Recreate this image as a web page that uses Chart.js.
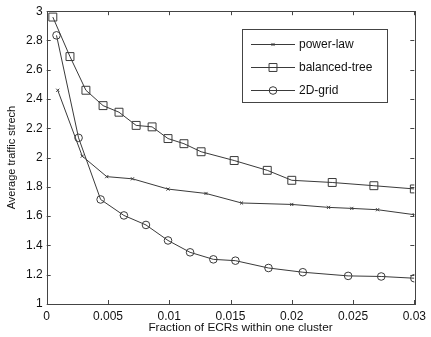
<!DOCTYPE html>
<html>
<head>
<meta charset="utf-8">
<script src="https://cdn.jsdelivr.net/npm/chart.js@4/dist/chart.umd.min.js"></script>
<style>
  html, body { margin: 0; padding: 0; background: #fff; }
  #wrap { width: 431px; height: 337px; }
</style>
</head>
<body>
<div id="wrap"><canvas id="chart"></canvas></div>
<script>
// series names as in the legend
const seriesNames = ['power-law', 'balanced-tree', '2D-grid'];

// power-law (x markers)
const powerLawX = [0.0009, 0.0029, 0.0049, 0.0070, 0.0099, 0.0130, 0.0159, 0.0200, 0.0230, 0.0249, 0.0270, 0.0300];
const powerLawY = [2.46, 2.01, 1.87, 1.855, 1.785, 1.755, 1.69, 1.68, 1.66, 1.653, 1.644, 1.61];

// balanced-tree (square markers)
const treeX = [0.0005, 0.0019, 0.0032, 0.0046, 0.0059, 0.0073, 0.0086, 0.0099, 0.0112, 0.0126, 0.0153, 0.0180, 0.0200, 0.0233, 0.0267, 0.0300];
const treeY = [2.96, 2.69, 2.46, 2.355, 2.31, 2.22, 2.21, 2.13, 2.095, 2.04, 1.98, 1.913, 1.845, 1.83, 1.808, 1.786];

// 2D-grid (circle markers)
const gridX = [0.0008, 0.0026, 0.0044, 0.0063, 0.0081, 0.0099, 0.0117, 0.0136, 0.0154, 0.0181, 0.0209, 0.0246, 0.0273, 0.0300];
const gridY = [2.835, 2.135, 1.714, 1.605, 1.54, 1.434, 1.353, 1.305, 1.296, 1.246, 1.217, 1.192, 1.188, 1.176];

const xTicks = [0, 0.005, 0.01, 0.015, 0.02, 0.025, 0.03];
const yTicks = [1, 1.2, 1.4, 1.6, 1.8, 2, 2.2, 2.4, 2.6, 2.8, 3];

const xTitle = 'Fraction of ECRs within one cluster';
const yTitle = 'Average traffic strech';

const ink = '#3a3a3a';
const font = 'Arial, "Liberation Sans", sans-serif';

function toPoints(xs, ys) {
    return xs.map((x, i) => ({ x: x, y: ys[i] }));
}

const styles = [
    { pointStyle: 'crossRot', pointRadius: 2.2 },
    { pointStyle: 'rect', pointRadius: 5.6 },
    { pointStyle: 'circle', pointRadius: 3.8 }
];

const seriesData = [
    toPoints(powerLawX, powerLawY),
    toPoints(treeX, treeY),
    toPoints(gridX, gridY)
];

const datasets = seriesData.map((pts, i) => ({
    label: seriesNames[i],
    data: pts,
    borderColor: ink,
    borderWidth: 1,
    backgroundColor: 'rgba(0,0,0,0)',
    pointBorderColor: ink,
    pointBorderWidth: 1,
    pointBackgroundColor: 'rgba(0,0,0,0)',
    pointStyle: styles[i].pointStyle,
    pointRadius: styles[i].pointRadius,
    tension: 0
}));

// box round the plot plus inward ticks on all four sides, and the x title
const boxPlugin = {
    id: 'box',
    afterDraw(chart) {
        const ctx = chart.ctx;
        const a = chart.chartArea;
        const xs = chart.scales.x, ys = chart.scales.y;
        const len = 4;
        ctx.save();
        ctx.strokeStyle = '#444';
        ctx.lineWidth = 1;
        ctx.strokeRect(Math.round(a.left) + 0.5, Math.round(a.top) + 0.5,
                       Math.round(a.width), Math.round(a.height));
        ctx.beginPath();
        xTicks.forEach(v => {
            const p = Math.round(xs.getPixelForValue(v)) + 0.5;
            ctx.moveTo(p, a.bottom); ctx.lineTo(p, a.bottom - len);
            ctx.moveTo(p, a.top); ctx.lineTo(p, a.top + len);
        });
        yTicks.forEach(v => {
            const p = Math.round(ys.getPixelForValue(v)) + 0.5;
            ctx.moveTo(a.left, p); ctx.lineTo(a.left + len, p);
            ctx.moveTo(a.right, p); ctx.lineTo(a.right - len, p);
        });
        ctx.stroke();

        // matlab puts the label a bit right of the axis centre here
        ctx.fillStyle = '#111';
        ctx.font = '11.8px ' + font;
        ctx.textAlign = 'center';
        ctx.textBaseline = 'middle';
        ctx.fillText(xTitle, (a.left + a.right) / 2 + 10, 328);
        ctx.restore();
    }
};

// MATLAB style legend: line with marker through it
const legendPlugin = {
    id: 'boxLegend',
    afterDraw(chart) {
        const ctx = chart.ctx;
        const left = 242.5, top = 29.5, w = 145, h = 73;
        ctx.save();
        ctx.fillStyle = '#fff';
        ctx.fillRect(left, top, w, h);
        ctx.strokeStyle = '#444';
        ctx.lineWidth = 1;
        ctx.strokeRect(left, top, w, h);
        chart.data.datasets.forEach((ds, i) => {
            const y = Math.round(43.5 + i * 23) + 0.5;
            ctx.strokeStyle = ink;
            ctx.lineWidth = 1;
            ctx.beginPath();
            ctx.moveTo(251, y); ctx.lineTo(295, y);
            ctx.stroke();
            ctx.fillStyle = 'rgba(0,0,0,0)';
            Chart.helpers.drawPoint(ctx, {
                pointStyle: ds.pointStyle,
                radius: ds.pointRadius,
                borderWidth: 1
            }, 273, y);
            ctx.fillStyle = '#111';
            ctx.font = '12px ' + font;
            ctx.textBaseline = 'middle';
            ctx.fillText(ds.label, 299, y);
        });
        ctx.restore();
    }
};

const ctx = document.getElementById('chart').getContext('2d');
new Chart(ctx, {
    type: 'line',
    data: { datasets: datasets },
    options: {
        responsive: true,
        maintainAspectRatio: false,
        animation: false,
        layout: { padding: { top: 9, right: 11, left: 0, bottom: 0 } },
        plugins: {
            legend: { display: false },
            tooltip: { enabled: false }
        },
        scales: {
            x: {
                type: 'linear',
                min: 0,
                max: 0.03,
                afterFit: s => { s.height = 33; },
                afterBuildTicks: s => { s.ticks = xTicks.map(v => ({ value: v })); },
                grid: { display: false, drawTicks: false },
                border: { display: false },
                ticks: {
                    color: '#111',
                    padding: 5,
                    maxRotation: 0,
                    font: { family: font, size: 12 },
                    callback: v => String(+v.toFixed(3))
                }
            },
            y: {
                type: 'linear',
                min: 1,
                max: 3,
                afterFit: s => { s.width = 46.7; },
                afterBuildTicks: s => { s.ticks = yTicks.map(v => ({ value: v })); },
                grid: { display: false, drawTicks: false },
                border: { display: false },
                ticks: {
                    color: '#111',
                    padding: 4,
                    font: { family: font, size: 12 },
                    callback: v => String(+v.toFixed(1))
                },
                title: {
                    display: true,
                    text: yTitle,
                    color: '#111',
                    padding: { top: 5, bottom: 0 },
                    font: { family: font, size: 11 }
                }
            }
        }
    },
    plugins: [boxPlugin, legendPlugin]
});
</script>
</body>
</html>
